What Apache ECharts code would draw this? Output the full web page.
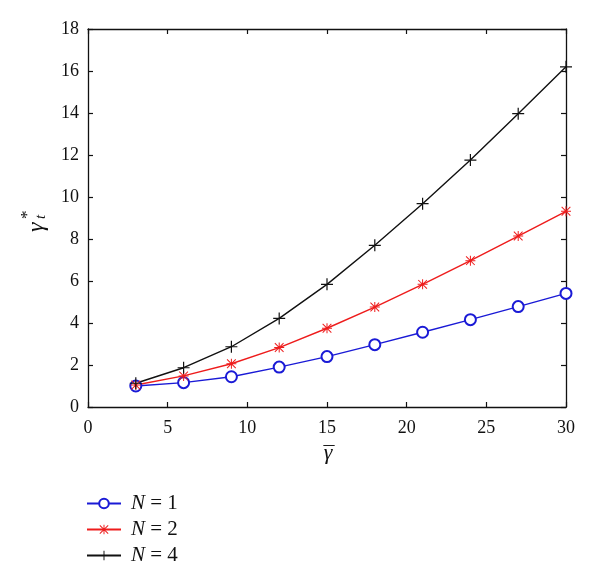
<!DOCTYPE html>
<html>
<head>
<meta charset="utf-8">
<script src="https://cdn.jsdelivr.net/npm/echarts@6/dist/echarts.min.js"></script>
<style>
  html, body { margin: 0; padding: 0; background: #fff; }
  #main { width: 600px; height: 578px; }
</style>
</head>
<body>
<div id="main"></div>
<script>
// x values (gamma bar)
var gammaBar = [3, 6, 9, 12, 15, 18, 21, 24, 27, 30];
// gamma_t* for each N
var valsN1 = [1.0, 1.16, 1.44, 1.9, 2.4, 2.97, 3.56, 4.16, 4.78, 5.41];
var valsN2 = [1.05, 1.48, 2.06, 2.83, 3.75, 4.76, 5.84, 6.97, 8.14, 9.32];
var valsN4 = [1.13, 1.87, 2.87, 4.22, 5.84, 7.7, 9.68, 11.76, 13.97, 16.2];
var seriesNames = ['N = 1', 'N = 2', 'N = 4'];
var xRange = { min: 0, max: 30, interval: 5 };
var yRange = { min: 0, max: 18, interval: 2 };

var serif = '"Liberation Serif", "DejaVu Serif", serif';
var asterisk = 'path://M45,0H55V100H45Z M0,45H100V55H0Z M10,3L97,90L90,97L3,10Z M90,3L97,10L10,97L3,90Z';
var plus = 'path://M45,0H55V100H45Z M0,45H100V55H0Z';

function pairs(vals) {
  return gammaBar.map(function (x, i) { return [x, vals[i]]; });
}

function frameAxis(pos, range, showLabel) {
  return {
    type: 'value',
    position: pos,
    min: range.min,
    max: range.max,
    interval: range.interval,
    axisLine: { show: true, onZero: false, lineStyle: { color: '#111', width: 1.3 } },
    axisTick: { show: true, inside: true, length: 5, lineStyle: { color: '#111', width: 1.2 } },
    axisLabel: {
      show: showLabel,
      color: '#111',
      fontFamily: serif,
      fontSize: 18,
      margin: pos == 'bottom' ? 12 : 9
    },
    splitLine: { show: false }
  };
}

var chart = echarts.init(document.getElementById('main'), null, { renderer: 'canvas' });

var option = {
  animation: false,
  backgroundColor: '#fff',
  grid: { left: 88, top: 29, right: 34, bottom: 171 },
  xAxis: [frameAxis('bottom', xRange, true), frameAxis('top', xRange, false)],
  yAxis: [frameAxis('left', yRange, true), frameAxis('right', yRange, false)],
  legend: {
    orient: 'vertical',
    left: 81,
    top: 488,
    itemWidth: 34,
    itemHeight: 12,
    itemGap: 5,
    data: seriesNames,
    formatter: function (name) {
      return '{i|N}' + name.substring(1);
    },
    textStyle: {
      fontFamily: serif,
      fontSize: 21,
      lineHeight: 19,
      color: '#111',
      padding: [0, 0, 0, 5],
      rich: { i: { fontStyle: 'italic', fontFamily: serif, fontSize: 21 } }
    }
  },
  graphic: [
    // y axis name: gamma_t^*
    {
      type: 'group',
      x: 37,
      y: 232,
      rotation: Math.PI / 2,
      children: [
        { type: 'text', x: 0, y: 0, style: { text: 'γ', font: 'italic 24px ' + serif, fill: '#111', textVerticalAlign: 'middle' } },
        { type: 'text', x: 13, y: 4, style: { text: 't', font: 'italic 15px ' + serif, fill: '#111', textVerticalAlign: 'middle' } },
        { type: 'text', x: 13, y: -9, style: { text: '*', font: '17px ' + serif, fill: '#111', textVerticalAlign: 'middle' } }
      ]
    },
    // x axis name: gamma bar
    {
      type: 'group',
      x: 328,
      y: 453,
      children: [
        { type: 'text', x: 0, y: 0, style: { text: 'γ', font: 'italic 22px ' + serif, fill: '#111', textAlign: 'center', textVerticalAlign: 'middle' } },
        { type: 'text', x: 1, y: 2, style: { text: '\u00AF', font: '22px ' + serif, fill: '#111', textAlign: 'center', textVerticalAlign: 'middle' } }
      ]
    }
  ],
  series: [
    {
      name: seriesNames[0],
      type: 'line',
      data: pairs(valsN1),
      symbol: 'emptyCircle',
      symbolSize: 11,
      lineStyle: { color: '#1a1ad6', width: 1.4 },
      itemStyle: { color: '#1a1ad6', borderColor: '#1a1ad6', borderWidth: 1.4 }
    },
    {
      name: seriesNames[1],
      type: 'line',
      data: pairs(valsN2),
      symbol: asterisk,
      symbolSize: 10,
      lineStyle: { color: '#ee1c1c', width: 1.4 },
      itemStyle: { color: '#ee1c1c' }
    },
    {
      name: seriesNames[2],
      type: 'line',
      data: pairs(valsN4),
      symbol: plus,
      symbolSize: 12,
      lineStyle: { color: '#111', width: 1.4 },
      itemStyle: { color: '#111' }
    }
  ]
};

chart.setOption(option);
</script>
</body>
</html>
